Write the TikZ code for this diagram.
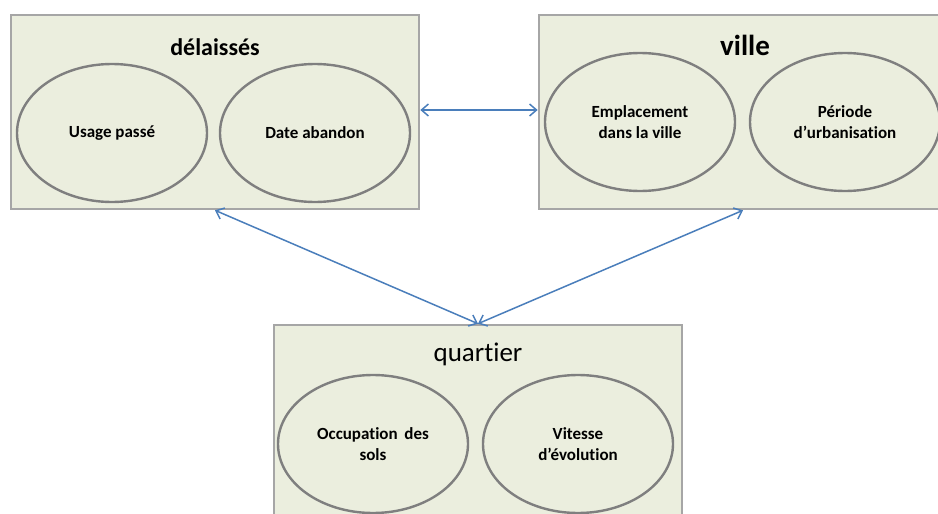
\documentclass[tikz,border=0pt]{standalone}
\usepackage{fontspec}
\setmainfont{Carlito}[RawFeature={-liga}]
\usetikzlibrary{shapes.geometric,arrows.meta}
\definecolor{boxfill}{HTML}{EBEEDE}
\definecolor{boxline}{HTML}{A6A6A6}
\definecolor{ellline}{HTML}{7F7F7F}
\definecolor{arrowblue}{HTML}{4A7EBB}
\tikzset{
  groupbox/.style={rectangle, draw=boxline, fill=boxfill, line width=2.6pt,
    minimum width=408pt, minimum height=194pt, inner sep=0pt},
  item/.style={ellipse, draw=ellline, fill=boxfill, line width=2.4pt,
    minimum width=190pt, minimum height=138pt, inner sep=0pt,
    align=center, font=\fontsize{17}{21}\selectfont\bfseries},
  grouptitle/.style={inner sep=0pt},
  link/.style={draw=arrowblue, line width=1.5pt,
    {Straight Barb[length=7pt,width=12pt]}-{Straight Barb[length=7pt,width=12pt]}}
}
\begin{document}
\begin{tikzpicture}[x=1pt,y=-1pt]
\useasboundingbox (0,0) rectangle (938,514);
\clip (0,0) rectangle (938,514);
\node[groupbox] (d) at (215,112) {};
\node[groupbox] (v) at (743,112) {};
\node[groupbox] (q) at (478,422) {};
\node[grouptitle, font=\fontsize{24}{28}\selectfont\bfseries] (dt) at (215,47) {délaissés};
\node[grouptitle, font=\fontsize{29}{34}\selectfont\bfseries] (vt) at (745,45) {ville};
\node[grouptitle, font=\fontsize{27}{32}\selectfont] (qt) at (478,354) {quartier};
\node[item] (d1) at (112,133) {Usage passé};
\node[item] (d2) at (315,133) {Date abandon};
\node[item] (v1) at (640,122) {Emplacement\\dans la ville};
\node[item] (v2) at (845,122) {Période\\d’urbanisation};
\node[item] (q1) at (373,444) {Occupation\, des\\sols};
\node[item] (q2) at (578,444) {Vitesse\\d’évolution};
\draw[link] ([yshift=2pt]d.east) -- ([yshift=2pt]v.west);
\draw[link] (d.south) -- (q.north);
\draw[link] (v.south) -- (q.north);
\end{tikzpicture}
\end{document}
